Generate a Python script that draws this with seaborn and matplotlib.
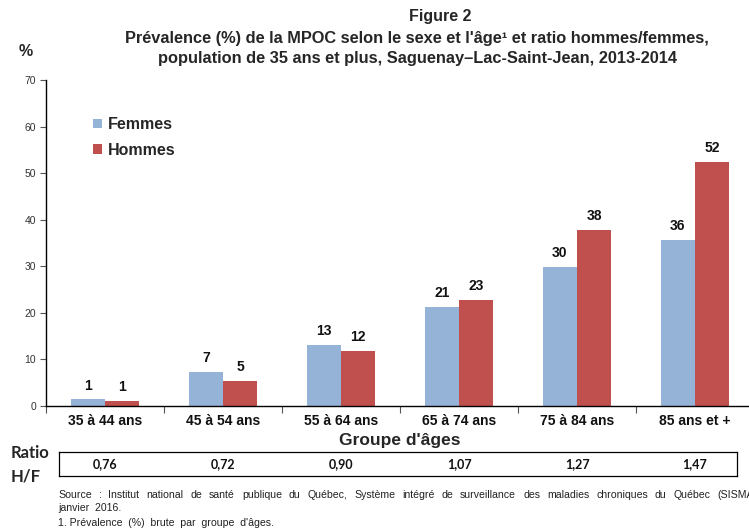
import matplotlib
matplotlib.use("Agg")
import matplotlib.pyplot as plt
import seaborn as sns
import pandas as pd

# Prévalence de la MPOC (%) par groupe d'âges et par sexe
groupes = ["35 à 44 ans", "45 à 54 ans", "55 à 64 ans", "65 à 74 ans", "75 à 84 ans", "85 ans et +"]
femmes = [1.4, 7.4, 13.1, 21.3, 29.8, 35.6]
hommes = [1.1, 5.4, 11.8, 22.8, 37.8, 52.3]
ratio_hf = ["0,76", "0,72", "0,90", "1,07", "1,27", "1,47"]
yticks = [0, 10, 20, 30, 40, 50, 60, 70]

BLEU = "#95B3D7"
ROUGE = "#C0504D"
NARROW = ["Liberation Sans Narrow", "Liberation Sans", "DejaVu Sans"]
ARIAL = ["Liberation Sans", "DejaVu Sans"]
CALIBRI = ["Lato", "DejaVu Sans"]

sns.set_theme(style="white")
plt.rcParams["font.family"] = ARIAL

df = pd.DataFrame({
    "groupe": groupes * 2,
    "sexe": ["Femmes"] * len(groupes) + ["Hommes"] * len(groupes),
    "valeur": femmes + hommes,
})

W, H = 749, 532
fig = plt.figure(figsize=(W / 100, H / 100), dpi=100)

# zone du graphique en pixels
x0, x1 = 46, 749
y_top, y_bot = 80, 406
cat_w = 118.0
ax = fig.add_axes([x0 / W, 1 - y_bot / H, (x1 - x0) / W, (y_bot - y_top) / H])

sns.barplot(data=df, x="groupe", y="valeur", hue="sexe", order=groupes,
            hue_order=["Femmes", "Hommes"], palette=[BLEU, ROUGE],
            width=0.58, saturation=1, linewidth=0, ax=ax, legend=True)

for cont in ax.containers:
    ax.bar_label(cont, labels=[f"{v:.0f}" for v in cont.datavalues],
                 padding=5, fontsize=10, fontweight="bold", color="#111111")

ax.set_xlim(-0.5, -0.5 + (x1 - x0) / cat_w)
ax.set_ylim(0, 70)
ax.set_yticks(yticks)
ax.set_yticklabels([str(t) for t in yticks], fontsize=7.5, color="#333333")
ax.tick_params(axis="y", which="both", left=True, length=4, width=0.8,
               color="#555555", pad=3)

# étiquettes des groupes et traits de séparation
ax.set_xticks(range(len(groupes)))
ax.set_xticklabels(groupes, fontsize=10, fontweight="bold",
                   family=NARROW, color="#111111")
ax.tick_params(axis="x", which="major", length=0, pad=6)
ax.set_xticks([i + 0.5 for i in range(-1, len(groupes) - 1)], minor=True)
ax.tick_params(axis="x", which="minor", bottom=True, length=5, width=0.8,
               color="#555555")
ax.set_xlabel("")
ax.set_ylabel("")

for side in ["top", "right"]:
    ax.spines[side].set_visible(False)
for side in ["left", "bottom"]:
    ax.spines[side].set_color("#000000")
    ax.spines[side].set_linewidth(1.0)

leg = ax.legend(loc="upper left", bbox_to_anchor=(0.058, 0.906), frameon=False,
                prop={"size": 11.5, "weight": "bold", "family": ARIAL},
                handlelength=0.55, handleheight=0.55, handletextpad=0.4,
                labelspacing=0.66, borderaxespad=0)

# titres
fig.text(440 / W, 1 - 17 / H, "Figure 2", ha="center", va="center",
         fontsize=11.5, fontweight="bold", family=NARROW)
fig.text(417 / W, 1 - 38 / H,
         "Prévalence (%) de la MPOC selon le sexe et l'âge\u00b9 et ratio hommes/femmes,",
         ha="center", va="center", fontsize=11.8, fontweight="bold", family=NARROW)
fig.text(417 / W, 1 - 58 / H,
         "population de 35 ans et plus, Saguenay\u2013Lac-Saint-Jean, 2013-2014",
         ha="center", va="center", fontsize=11.8, fontweight="bold", family=NARROW)
fig.text(26 / W, 1 - 52 / H, "%", ha="center", va="center",
         fontsize=11.5, fontweight="bold", family=NARROW)

fig.text(x0 / W + (3.0 * cat_w) / W, 1 - 441 / H, "Groupe d'âges",
         ha="center", va="center", fontsize=12.5, fontweight="bold",
         family=NARROW)

# rangée des ratios H/F
bx0, bx1, by0, by1 = 59, 737, 452, 476
rax = fig.add_axes([bx0 / W, 1 - by1 / H, (bx1 - bx0) / W, (by1 - by0) / H])
rax.set_xlim((bx0 - x0) / cat_w - 0.5, (bx1 - x0) / cat_w - 0.5)
rax.set_ylim(0, 1)
rax.set_xticks([])
rax.set_yticks([])
for s in rax.spines.values():
    s.set_visible(True)
    s.set_color("#000000")
    s.set_linewidth(0.9)
for i, r in enumerate(ratio_hf):
    rax.text(i, 0.5, r, ha="center", va="center", fontsize=9,
             fontweight="bold", family=CALIBRI, color="#111111")

fig.text(11 / W, 1 - 453 / H, "Ratio", ha="left", va="center",
         fontsize=12, fontweight="bold", family=CALIBRI)
fig.text(11 / W, 1 - 476 / H, "H/F", ha="left", va="center",
         fontsize=12, fontweight="bold", family=CALIBRI)


# notes (première ligne justifiée)
def ligne_justifiee(texte, x_left, x_right, y, **kw):
    mots = texte.split()
    renderer = fig.canvas.get_renderer()
    largeurs = []
    for m in mots:
        t = fig.text(0, 0, m, **kw)
        largeurs.append(t.get_window_extent(renderer).width)
        t.remove()
    ecart = (x_right - x_left - sum(largeurs)) / (len(mots) - 1)
    x = x_left
    for m, w in zip(mots, largeurs):
        fig.text(x / W, 1 - y / H, m, ha="left", va="center", **kw)
        x += w + ecart


note_kw = dict(fontsize=7.6, family=ARIAL, color="#222222")
ligne_justifiee("Source : Institut national de santé publique du Québec, Système intégré de "
                "surveillance des maladies chroniques du Québec (SISMACQ),",
                58, 776, 495, **note_kw)
fig.text(58 / W, 1 - 508 / H, "janvier  2016.", ha="left", va="center", **note_kw)
fig.text(58 / W, 1 - 523 / H, "1. Prévalence  (%)  brute  par  groupe  d'âges.",
         ha="left", va="center", **note_kw)

fig.savefig("out.png", dpi=100)
